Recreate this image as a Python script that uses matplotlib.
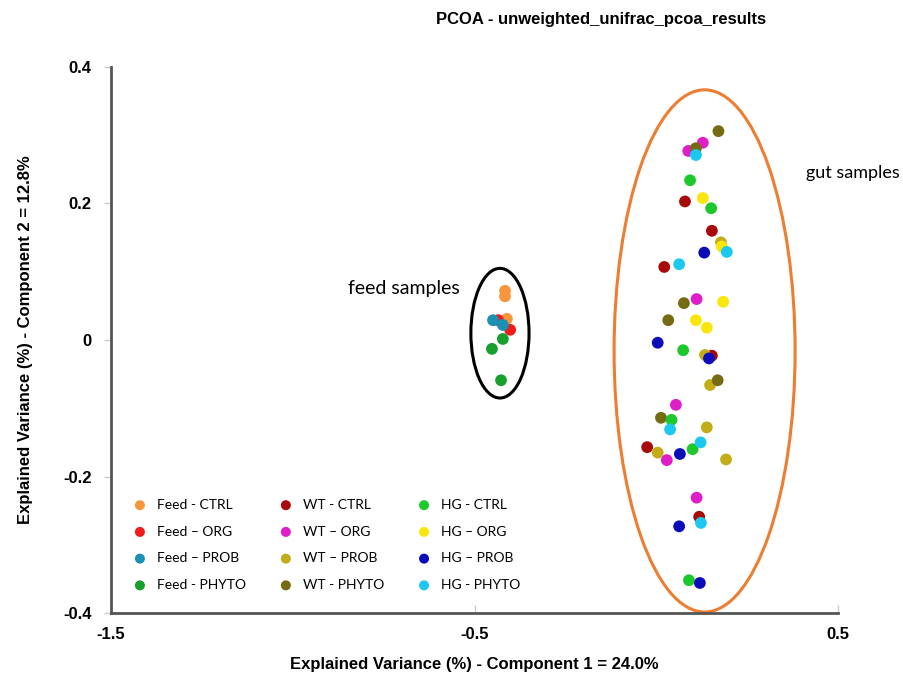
import matplotlib
matplotlib.use("Agg")
import matplotlib.pyplot as plt
from matplotlib.patches import Ellipse

# ---- data ----
groups = ["Feed - CTRL", "Feed \u2013 ORG", "Feed \u2013 PROB", "Feed - PHYTO",
          "WT - CTRL", "WT \u2013 ORG", "WT \u2013 PROB", "WT - PHYTO",
          "HG - CTRL", "HG \u2013 ORG", "HG \u2013 PROB", "HG - PHYTO"]
colors = ["#f7963a", "#ee1c1c", "#1a90b2", "#18a02c",
          "#a80a0a", "#e01ec8", "#c2ac18", "#766a12",
          "#1cc82c", "#f8e60c", "#0c0cb8", "#1cc8f0"]

feed_ctrl_x = [-0.416, -0.416, -0.411]
feed_ctrl_y = [0.072, 0.064, 0.031]
feed_org_x = [-0.435, -0.402]
feed_org_y = [0.029, 0.015]
feed_prob_x = [-0.449, -0.422]
feed_prob_y = [0.029, 0.022]
feed_phyto_x = [-0.422, -0.452, -0.427]
feed_phyto_y = [0.0015, -0.013, -0.059]

wt_ctrl_x = [0.079, 0.153, 0.022, 0.153, -0.025, 0.118]
wt_ctrl_y = [0.203, 0.160, 0.107, -0.023, -0.157, -0.259]
wt_org_x = [0.128, 0.088, 0.111, 0.054, 0.029, 0.111]
wt_org_y = [0.289, 0.277, 0.060, -0.095, -0.176, -0.231]
wt_prob_x = [0.178, 0.134, 0.148, 0.139, 0.004, 0.192]
wt_prob_y = [0.143, -0.022, -0.066, -0.128, -0.165, -0.175]
wt_phyto_x = [0.171, 0.109, 0.076, 0.033, 0.169, 0.013]
wt_phyto_y = [0.306, 0.281, 0.054, 0.029, -0.059, -0.114]

hg_ctrl_x = [0.093, 0.151, 0.074, 0.042, 0.100, 0.090]
hg_ctrl_y = [0.234, 0.193, -0.015, -0.117, -0.160, -0.352]
hg_org_x = [0.128, 0.180, 0.184, 0.109, 0.139]
hg_org_y = [0.208, 0.137, 0.056, 0.029, 0.018]
hg_prob_x = [0.132, 0.004, 0.145, 0.065, 0.063, 0.120]
hg_prob_y = [0.128, -0.004, -0.027, -0.167, -0.273, -0.356]
hg_phyto_x = [0.109, 0.194, 0.063, 0.038, 0.122, 0.123]
hg_phyto_y = [0.271, 0.129, 0.111, -0.131, -0.150, -0.268]

series_x = [feed_ctrl_x, feed_org_x, feed_prob_x, feed_phyto_x,
            wt_ctrl_x, wt_org_x, wt_prob_x, wt_phyto_x,
            hg_ctrl_x, hg_org_x, hg_prob_x, hg_phyto_x]
series_y = [feed_ctrl_y, feed_org_y, feed_prob_y, feed_phyto_y,
            wt_ctrl_y, wt_org_y, wt_prob_y, wt_phyto_y,
            hg_ctrl_y, hg_org_y, hg_prob_y, hg_phyto_y]

x_ticks = [-1.5, -0.5, 0.5]
y_ticks = [-0.4, -0.2, 0, 0.2, 0.4]
y_tick_labels = ["-0.4", "-0.2", "0", "0.2", "0.4"]
x_tick_labels = ["-1.5", "-0.5", "0.5"]

NARROW = ["Liberation Sans Narrow", "Liberation Sans", "DejaVu Sans"]
CAL = ["Lato", "DejaVu Sans"]

# ---- figure ----
fig = plt.figure(figsize=(9.04, 6.87), dpi=100)
ax = fig.add_axes([0.1228, 0.1077, 0.8042, 0.7948])
ax.set_xlim(-1.5, 0.5)
ax.set_ylim(-0.4, 0.4)

for xs, ys, c, lab in zip(series_x, series_y, colors, groups):
    ax.scatter(xs, ys, s=72, color=c, edgecolors="none", label=lab, zorder=3)

# ellipses
ax.add_patch(Ellipse((-0.430, 0.010), 0.160, 0.190, fill=False,
                     edgecolor="black", linewidth=2.2, zorder=2))
ax.add_patch(Ellipse((0.133, -0.016), 0.498, 0.765, fill=False,
                     edgecolor="#ed7d31", linewidth=2.2, zorder=2))

ax.text(-0.694, 0.075, "feed samples", fontsize=14, family=CAL,
        ha="center", va="center")
ax.text(0.542, 0.245, "gut samples", fontsize=13, family=CAL,
        ha="center", va="center", clip_on=False)

# spines / ticks
for s in ["top", "right"]:
    ax.spines[s].set_visible(False)
for s in ["left", "bottom"]:
    ax.spines[s].set_color("#555555")
    ax.spines[s].set_linewidth(2)
ax.set_xticks(x_ticks)
ax.set_xticklabels(x_tick_labels)
ax.set_yticks(y_ticks)
ax.set_yticklabels(y_tick_labels)
ax.tick_params(axis="y", direction="out", length=5, pad=9, color="#cccccc", width=1)
ax.tick_params(axis="x", direction="in", length=6, pad=10, color="#cccccc", width=1)
for lab in ax.get_xticklabels() + ax.get_yticklabels():
    lab.set_fontweight("bold")
    lab.set_fontsize(12)
    lab.set_family(NARROW)

ax.set_xlabel("Explained Variance (%) - Component 1 = 24.0%", fontsize=12,
              fontweight="bold", labelpad=11, family=NARROW)
ax.set_ylabel("Explained Variance (%) - Component 2 = 12.8%", fontsize=12,
              fontweight="bold", labelpad=22, family=NARROW)

fig.text(0.665, 0.972, "PCOA - unweighted_unifrac_pcoa_results", fontsize=12,
         fontweight="bold", ha="center", va="center",
         family=["Liberation Sans", "DejaVu Sans"])

leg = ax.legend(ncol=3, loc="upper left", bbox_to_anchor=(0.013, 0.232),
                frameon=False, markerscale=0.85,
                handlelength=1.0, handletextpad=0.7, columnspacing=2.4,
                labelspacing=1.06,
                prop={"family": CAL, "size": 10})

fig.savefig("out.png", dpi=100)
